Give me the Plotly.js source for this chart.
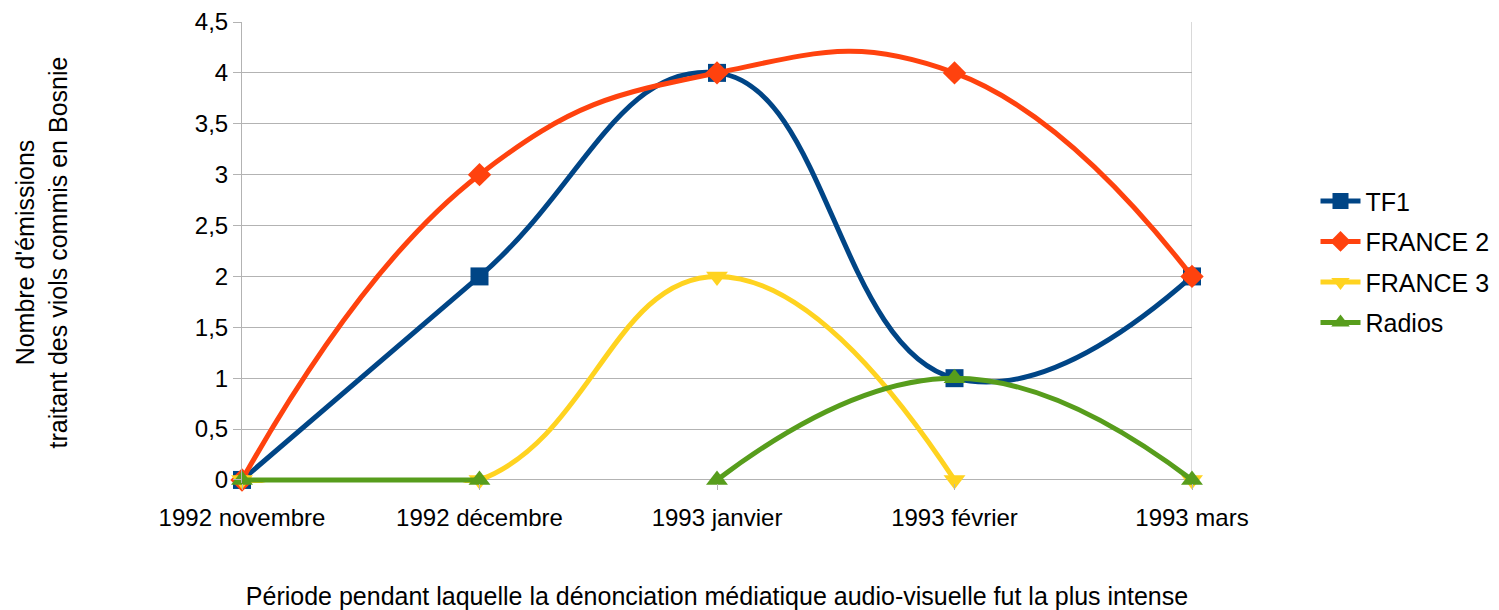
<!DOCTYPE html>
<html><head><meta charset="utf-8">
<script src="https://cdn.plot.ly/plotly-3.0.1.min.js"></script>
<style>html,body{margin:0;padding:0;background:#fff}#chart{width:1499px;height:610px}</style>
</head><body><div id="chart"></div>
<script>
const categories = ["1992 novembre", "1992 décembre", "1993 janvier", "1993 février", "1993 mars"];
const tf1 = [0, 2, 4, 1, 2];
const france2 = [0, 3, 4, 4, 2];
const france3 = [0, 0, 2, 0, 0];
const radios = [0, 0, 0, 1, 0];
const yTicks = [0, 0.5, 1, 1.5, 2, 2.5, 3, 3.5, 4, 4.5];
// index after which the drawn line is interrupted (as in the original)
const breaks = {tf1: [], france2: [], france3: [3], radios: [1]};

function build(vals, brk) {
  const x = [], y = [];
  vals.forEach((v, i) => {
    x.push(i); y.push(v);
    if (brk.includes(i)) { x.push(i + 0.5); y.push(null); }
  });
  return {x, y};
}
const font = "Liberation Sans, Arial, sans-serif";
function tr(name, vals, brk, color, symbol, size) {
  const d = build(vals, brk);
  return {
    type: "scatter", mode: "lines+markers", name: name, legendgroup: name,
    x: d.x, y: d.y, connectgaps: false,
    line: {color: color, width: 5, shape: "spline", smoothing: 1.3},
    marker: {color: color, symbol: symbol, size: size},
    cliponaxis: false
  };
}
const data = [
  tr("TF1", tf1, breaks.tf1, "#004586", "square", 18),
  tr("FRANCE 2", france2, breaks.france2, "#ff420e", "diamond", 18),
  tr("FRANCE 3", france3, breaks.france3, "#ffd320", "triangle-down", 19),
  tr("Radios", radios, breaks.radios, "#579d1c", "triangle-up", 19)
];
const layout = {
  width: 1499, height: 610,
  margin: {l: 242, r: 307, t: 22, b: 127, autoexpand: false},
  paper_bgcolor: "#fff", plot_bgcolor: "#fff",
  separators: ", ",
  font: {family: font, color: "#000", size: 24},
  showlegend: true,
  legend: {x: 1.13, xanchor: "left", y: 0.48, yanchor: "middle",
           font: {size: 25, family: font}, tracegroupgap: 5, itemwidth: 40},
  xaxis: {
    range: [0, 4], tickvals: [0, 1, 2, 3, 4], ticktext: categories,
    showgrid: false, zeroline: false, showline: false,
    ticks: "outside", ticklen: 6, tickcolor: "#b3b3b3",
    tickfont: {size: 24, family: font}, ticklabelstandoff: 7,
    title: {text: "Période pendant laquelle la dénonciation médiatique audio-visuelle fut la plus intense",
            font: {size: 25, family: font}, standoff: 60}
  },
  yaxis: {
    range: [-0.03, 4.5], tickvals: yTicks,
    showgrid: true, gridcolor: "#b3b3b3", gridwidth: 1,
    zeroline: false, showline: true, linecolor: "#b3b3b3", mirror: false,
    ticks: "outside", ticklen: 8, tickcolor: "#b3b3b3",
    tickfont: {size: 24, family: font},
    title: {text: "Nombre d'émissions<br>traitant des viols commis en Bosnie",
            font: {size: 25, family: font}, standoff: 120}
  },
  shapes: [{type: "line", xref: "x", yref: "paper", x0: 4, x1: 4, y0: 0, y1: 1,
            line: {color: "#b3b3b3", width: 1}, layer: "below"}]
};
Plotly.newPlot("chart", data, layout, {displayModeBar: false, staticPlot: true});
</script></body></html>
